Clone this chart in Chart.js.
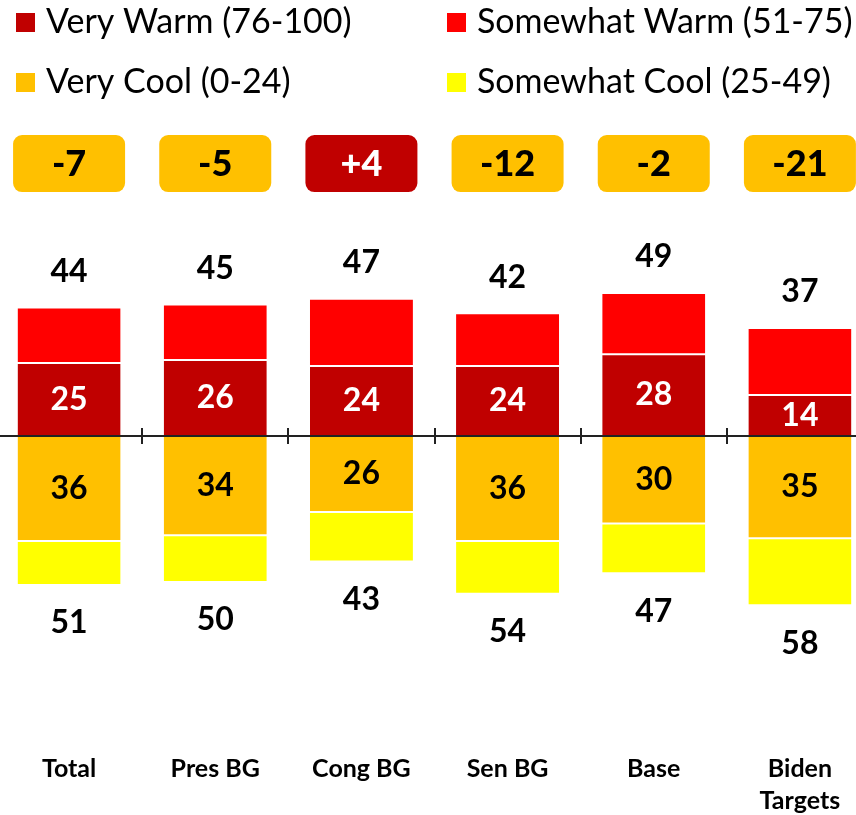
<!DOCTYPE html>
<html><head><meta charset="utf-8">
<script src="https://cdn.jsdelivr.net/npm/chart.js@4"></script>
<style>
html,body{margin:0;padding:0;background:#fff;overflow:hidden;width:856px;height:815px;}
#wrap{position:absolute;left:-4px;top:0;width:877px;height:815px;}
</style></head>
<body>
<div id="wrap"><canvas id="c"></canvas></div>
<script>
const categories = ['Total','Pres BG','Cong BG','Sen BG','Base',['Biden','Targets']];
const veryWarm = [25,26,24,24,28,14];
const somewhatWarm = [19,19,23,18,21,23];
const veryCool = [36,34,26,36,30,35];
const somewhatCool = [15,16,17,18,17,23];
const totalWarm = [44,45,47,42,49,37];
const totalCool = [51,50,43,54,47,58];
const netLabels = ['-7','-5','+4','-12','-2','-21'];
const seriesNames = ['Very Warm (76-100)','Somewhat Warm (51-75)','Very Cool (0-24)','Somewhat Cool (25-49)'];
const colors = ['#C00000','#FF0000','#FFC000','#FFFF00'];
const OFF = 4;
const FONT = 'Lato, "Open Sans", sans-serif';

const overlay = {
  id:'overlay',
  afterDatasetsDraw(chart){
    const {ctx, scales:{y}} = chart;
    ctx.save();
    const y0 = Math.round(y.getPixelForValue(0));
    ctx.strokeStyle = '#222'; ctx.lineWidth = 2;
    ctx.beginPath(); ctx.moveTo(0,y0); ctx.lineTo(chart.width,y0); ctx.stroke();
    const m0 = chart.getDatasetMeta(0);
    for(let i=1;i<categories.length;i++){
      const bx = Math.round((m0.data[i-1].x + m0.data[i].x)/2);
      ctx.beginPath(); ctx.moveTo(bx,y0-8); ctx.lineTo(bx,y0+8); ctx.stroke();
    }
    ctx.textAlign='center'; ctx.textBaseline='middle';
    const m2 = chart.getDatasetMeta(2);
    for(let i=0;i<categories.length;i++){
      const b0 = m0.data[i], b2 = m2.data[i];
      ctx.font = 'bold 32px ' + FONT;
      ctx.fillStyle='#fff';
      ctx.fillText(String(veryWarm[i]), b0.x, (b0.y+b0.base)/2);
      ctx.fillStyle='#000';
      ctx.fillText(String(veryCool[i]), b2.x, (b2.y+b2.base)/2);
      ctx.fillText(String(totalWarm[i]), b0.x, y.getPixelForValue(totalWarm[i]) - 36);
      ctx.fillText(String(totalCool[i]), b0.x, y.getPixelForValue(-totalCool[i]) + 38);
      const cy = y.getPixelForValue(93.3);
      const pos = netLabels[i].startsWith('+');
      ctx.fillStyle = pos ? '#C00000' : '#FFC000';
      ctx.beginPath();
      ctx.roundRect(b0.x-56, cy-28.5, 112, 57, 9);
      ctx.fill();
      ctx.font = '900 36px ' + FONT;
      ctx.fillStyle = pos ? '#fff' : '#000';
      ctx.fillText(netLabels[i], b0.x, cy+1);
    }
    ctx.textAlign='left'; ctx.textBaseline='alphabetic';
    ctx.font = '34px ' + FONT;
    const lx = [16+OFF, 447+OFF], ly = [33, 93];
    for(let k=0;k<4;k++){
      const col = k%2, row = Math.floor(k/2);
      ctx.fillStyle = colors[k];
      ctx.fillRect(lx[col], ly[row]-20, 19, 19);
      ctx.fillStyle = '#000';
      ctx.fillText(seriesNames[k], lx[col]+30, ly[row]);
    }
    ctx.restore();
  }
};

function mk(i, data){
  return {label:seriesNames[i], data, backgroundColor:colors[i], borderColor:'#fff',
    borderWidth:{top:1,bottom:1,left:0,right:0}, borderSkipped:false,
    barPercentage:0.705, categoryPercentage:1.0, stack:'s'};
}

function draw(){
  new Chart(document.getElementById('c'), {
    type:'bar',
    data:{labels:categories, datasets:[
      mk(0, veryWarm), mk(1, somewhatWarm),
      mk(2, veryCool.map(v=>-v)), mk(3, somewhatCool.map(v=>-v))
    ]},
    options:{
      responsive:true, maintainAspectRatio:false, animation:false,
      layout:{padding:{top:144,left:0,right:0,bottom:0}},
      plugins:{legend:{display:false}, tooltip:{enabled:false}},
      scales:{
        x:{stacked:true, grid:{display:false}, border:{display:false},
           ticks:{color:'#000', font:{family:FONT, size:25, weight:'bold', lineHeight:1.28}, padding:17, maxRotation:0, autoSkip:false},
           afterFit(s){ s.height = 87; }},
        y:{stacked:true, display:false, min:-100, max:100}
      }
    },
    plugins:[overlay]
  });
}
if (document.fonts && document.fonts.load) {
  Promise.all([document.fonts.load('bold 32px Lato'), document.fonts.load('32px Lato'), document.fonts.load('900 36px Lato')]).then(draw, draw);
} else draw();
</script>
</body></html>
